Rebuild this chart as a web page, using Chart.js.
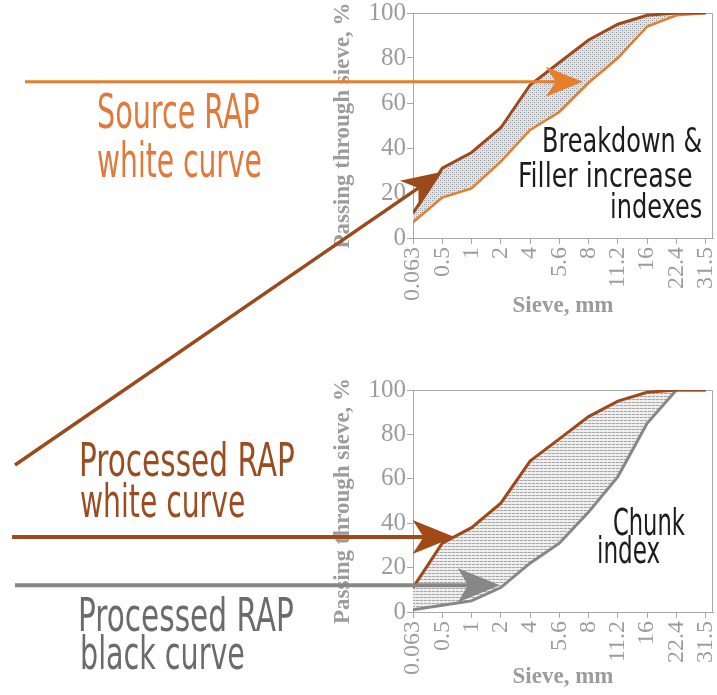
<!DOCTYPE html>
<html>
<head>
<meta charset="utf-8">
<script src="https://cdn.jsdelivr.net/npm/chart.js@4.4.1/dist/chart.umd.min.js"></script>
<style>
html, body { margin: 0; padding: 0; background: #fff; }
#wrap { position: relative; width: 717px; height: 695px; overflow: hidden; }
#wrap canvas { position: absolute; left: 0; top: 0; }
.note { position: absolute; white-space: nowrap; line-height: 1; transform-origin: 0 0;
  font-family: "Liberation Sans Narrow", "DejaVu Sans Condensed", "Arial Narrow", sans-serif; }
</style>
</head>
<body>
<div id="wrap">
  <canvas id="topChart" width="717" height="695"></canvas>
  <canvas id="bottomChart" width="717" height="695"></canvas>
</div>
<script>
// sieve sizes, mm (category axis)
const sieves = ['0.063', '0.5', '1', '2', '4', '5.6', '8', '11.2', '16', '22.4', '31.5'];
const yTicks = [0, 20, 40, 60, 80, 100];

// passing through sieve, %
const sourceWhite    = [7, 18, 22, 34, 48, 56, 69, 80, 94, 99, 100];
const processedWhite = [11, 31, 38, 49, 68, 78, 88, 95, 99, 100, 100];
const processedBlack = [1, 3, 5, 11, 22, 31, 45, 61, 85, 100, 100];

// arrow tips, in [sieve index, % passing]
const tipSource     = [5.8, 69.5];
const tipProcTop    = [1.0, 29.5];
const tipProcBottom = [1.42, 33.8];
const tipBlack      = [2.97, 12];

const brown = '#9b4a1c';
const orange = '#e67e2e';
const grey = '#878787';
const axisColor = '#a8a8a8';
const tickColor = '#9c9c9c';
const serif = '"Liberation Serif", "DejaVu Serif", serif';

function makePattern(w, h, paint) {
    const c = document.createElement('canvas');
    c.width = w; c.height = h;
    paint(c.getContext('2d'));
    return c.getContext('2d').createPattern(c, 'repeat');
}

// dotted fill (top chart)
const dots = makePattern(4, 4, g => {
    g.fillStyle = '#e3e4e6'; g.fillRect(0, 0, 4, 4);
    g.fillStyle = '#8e9297'; g.fillRect(0, 0, 1, 1); g.fillRect(2, 2, 1, 1);
    g.fillStyle = '#c4c7ca'; g.fillRect(2, 0, 1, 1); g.fillRect(0, 2, 1, 1);
});
// hatched horizontal fill (bottom chart)
const hatch = makePattern(4, 3, g => {
    g.fillStyle = '#eeeeee'; g.fillRect(0, 0, 4, 3);
    g.fillStyle = '#a9a9a9'; g.fillRect(0, 0, 3, 1);
    g.fillStyle = '#d8d8d8'; g.fillRect(3, 0, 1, 1);
});

function drawArrow(ctx, x0, y0, x1, y1, a) {
    const ang = Math.atan2(y1 - y0, x1 - x0);
    const c = Math.cos(ang), s = Math.sin(ang);
    const bx = x1 - a.len * c, by = y1 - a.len * s;
    const nx = x1 - (a.len - a.notch) * c, ny = y1 - (a.len - a.notch) * s;
    ctx.save();
    ctx.strokeStyle = a.color;
    ctx.lineWidth = a.lw;
    ctx.beginPath();
    ctx.moveTo(x0, y0);
    ctx.lineTo(nx + 2 * c, ny + 2 * s);
    ctx.stroke();
    ctx.fillStyle = a.color;
    ctx.beginPath();
    ctx.moveTo(x1, y1);
    ctx.lineTo(bx + a.half * s, by - a.half * c);
    ctx.lineTo(nx, ny);
    ctx.lineTo(bx - a.half * s, by + a.half * c);
    ctx.closePath();
    ctx.fill();
    ctx.restore();
}

// arrows: start point in page pixels (y null = horizontal), tip in data units
function arrowPlugin(list) {
    return {
        id: 'arrows',
        afterDatasetsDraw(chart) {
            const { ctx, scales: { x, y } } = chart;
            list.forEach(a => {
                const tx = x.getPixelForValue(a.tip[0]);
                const ty = y.getPixelForValue(a.tip[1]);
                drawArrow(ctx, a.from[0], a.from[1] == null ? ty : a.from[1], tx, ty, a);
            });
        }
    };
}

const framePlugin = {
    id: 'frame',
    beforeDatasetsDraw(chart) {
        const { ctx, chartArea: a } = chart;
        ctx.save();
        ctx.strokeStyle = axisColor;
        ctx.lineWidth = 1;
        ctx.beginPath();
        ctx.moveTo(a.left, a.top + 0.5);
        ctx.lineTo(a.right - 0.5, a.top + 0.5);
        ctx.lineTo(a.right - 0.5, a.bottom);
        ctx.stroke();
        ctx.restore();
    }
};

function chartOptions(padTop, padBottom, titlePad) {
    return {
        responsive: false,
        animation: false,
        events: [],
        layout: { padding: { left: 330, right: 4, top: padTop, bottom: padBottom } },
        elements: { point: { radius: 0 }, line: { tension: 0 } },
        plugins: {
            legend: { display: false },
            tooltip: { enabled: false },
            filler: { drawTime: 'beforeDatasetsDraw' }
        },
        scales: {
            x: {
                type: 'linear',
                min: 0,
                max: 10.25,
                afterBuildTicks: s => { s.ticks = sieves.map((_, i) => ({ value: i })); },
                afterFit: s => { s.height = 82; s.paddingLeft = 0; s.paddingRight = 0; },
                ticks: {
                    autoSkip: false, minRotation: 90, maxRotation: 90, padding: 3,
                    color: tickColor, font: { family: serif, size: 24 },
                    callback: v => sieves[v]
                },
                grid: { drawOnChartArea: false, tickLength: 6, color: axisColor },
                border: { color: axisColor },
                title: {
                    display: true, text: 'Sieve, mm', color: tickColor,
                    font: { family: serif, size: 23, weight: 'bold' },
                    padding: { top: 0, bottom: titlePad }
                }
            },
            y: {
                min: 0,
                max: 100,
                afterBuildTicks: s => { s.ticks = yTicks.map(v => ({ value: v })); },
                afterFit: s => { s.width = 83; s.paddingTop = 0; s.paddingBottom = 0; },
                ticks: { padding: 1, color: tickColor, font: { family: serif, size: 25 } },
                grid: { drawOnChartArea: false, tickLength: 6, color: axisColor },
                border: { color: axisColor },
                title: {
                    display: true, text: 'Passing through sieve, %', color: tickColor,
                    font: { family: serif, size: 23, weight: 'bold' },
                    padding: { top: -1, bottom: 0 }
                }
            }
        }
    };
}

const pts = arr => arr.map((v, i) => ({ x: i, y: v }));

new Chart(document.getElementById('topChart'), {
    type: 'line',
    data: {
        datasets: [{
            label: 'Processed RAP white curve',
            data: pts(processedWhite),
            borderColor: brown, borderWidth: 3,
            backgroundColor: dots, fill: '+1'
        }, {
            label: 'Source RAP white curve',
            data: pts(sourceWhite),
            borderColor: orange, borderWidth: 2.5, fill: false
        }]
    },
    options: chartOptions(13, 375, 0),
    plugins: [framePlugin, arrowPlugin([
        { from: [25, null], tip: tipSource, color: orange, lw: 3, len: 37, half: 15, notch: 10 },
        { from: [15, 465], tip: tipProcTop, color: brown, lw: 3.5, len: 40, half: 16.5, notch: 11 }
    ])]
});

new Chart(document.getElementById('bottomChart'), {
    type: 'line',
    data: {
        datasets: [{
            label: 'Processed RAP white curve',
            data: pts(processedWhite),
            borderColor: brown, borderWidth: 3,
            backgroundColor: hatch, fill: '+1'
        }, {
            label: 'Processed RAP black curve',
            data: pts(processedBlack),
            borderColor: grey, borderWidth: 3, fill: false
        }]
    },
    options: chartOptions(390, 1, 3),
    plugins: [framePlugin, arrowPlugin([
        { from: [12, null], tip: tipProcBottom, color: '#a24a16', lw: 4, len: 42, half: 17, notch: 11 },
        { from: [15, null], tip: tipBlack, color: grey, lw: 4, len: 42, half: 17, notch: 10 }
    ])]
});

// annotation text: x = left edge (or right edge when right), baseline y, target width
const notes = [
    { t: 'Source RAP', x: 97, b: 128, w: 163, size: 48, color: '#e0793a' },
    { t: 'white curve', x: 97, b: 177, w: 165, size: 48, color: '#e0793a' },
    { t: 'Processed RAP', x: 79, b: 476, w: 216, size: 46, color: '#9b4d22' },
    { t: 'white curve', x: 80, b: 517, w: 165, size: 46, color: '#9b4d22' },
    { t: 'Processed RAP', x: 78, b: 631, w: 216, size: 46, color: '#6b6b6b' },
    { t: 'black curve', x: 80, b: 669, w: 165, size: 46, color: '#6b6b6b' },
    { t: 'Breakdown &', x: 702, b: 152, w: 160, size: 34, color: '#1c1c1c', right: true },
    { t: 'Filler increase', x: 693, b: 187, w: 175, size: 34, color: '#1c1c1c', right: true },
    { t: 'indexes', x: 702, b: 218, w: 92, size: 34, color: '#1c1c1c', right: true },
    { t: 'Chunk', x: 613, b: 535, w: 72, size: 38, color: '#1c1c1c' },
    { t: 'index', x: 597, b: 563, w: 63, size: 38, color: '#1c1c1c' }
];

const wrap = document.getElementById('wrap');
notes.forEach(n => {
    const d = document.createElement('div');
    d.className = 'note';
    d.textContent = n.t;
    d.style.fontSize = n.size + 'px';
    d.style.color = n.color;
    d.style.top = (n.b - 0.846 * n.size) + 'px';
    wrap.appendChild(d);
    const k = n.w / d.offsetWidth;
    d.style.left = (n.right ? n.x - n.w : n.x) + 'px';
    d.style.transform = 'scaleX(' + k.toFixed(3) + ')';
});
</script>
</body>
</html>
